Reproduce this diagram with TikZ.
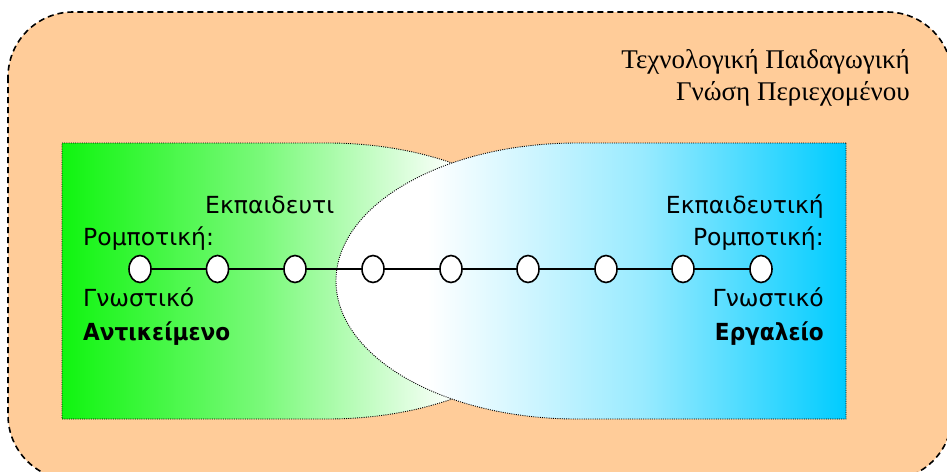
\documentclass[tikz,border=0pt]{standalone}
\usepackage{fontspec}
\usepackage{graphicx}
\setmainfont{Liberation Serif}
\newfontfamily\labelfont{DejaVu Sans}
\definecolor{peach}{RGB}{255,204,153}
\definecolor{brightgreen}{RGB}{16,245,16}
\definecolor{skyblue}{RGB}{0,204,255}
\pgfdeclarehorizontalshading{greenfade}{100bp}{color(0bp)=(brightgreen); color(25bp)=(brightgreen); color(45bp)=(brightgreen!55!white); color(64bp)=(white); color(100bp)=(white)}
\pgfdeclarehorizontalshading{bluefade}{100bp}{color(0bp)=(white); color(25bp)=(white); color(34bp)=(white); color(55bp)=(skyblue!40!white); color(75bp)=(skyblue); color(100bp)=(skyblue)}
\newcommand{\narrowbold}[1]{\scalebox{0.92}[1]{\bfseries #1}}
\tikzset{
  outerbox/.style={fill=peach, draw=black, line width=1.6pt, dash pattern=on 6pt off 4pt},
  innerborder/.style={draw=black, line width=0.9pt, dash pattern=on 1pt off 1.2pt},
  dotnode/.style={ellipse, draw=black, fill=white, line width=1.6pt, minimum width=22pt, minimum height=27pt, inner sep=0pt},
  lbl/.style={font=\labelfont\fontsize{23.5}{28}\selectfont, inner sep=0pt},
  serifl/.style={font=\fontsize{27}{32}\selectfont, inner sep=0pt}
}
\usetikzlibrary{shapes.geometric}
\begin{document}
\begin{tikzpicture}[x=1pt,y=-1pt]
\useasboundingbox (0,0) rectangle (947,471);
\clip (0,0) rectangle (947,471);
% outer rounded region
\path[outerbox, rounded corners=65pt] (8,12) rectangle (952,480);
% green region
\path[innerborder, shading=greenfade]
  (62,143) -- (327,143) arc[start angle=-90, end angle=90, x radius=241, y radius=138]
  -- (62,419) -- cycle;
% blue region
\path[innerborder, shading=bluefade]
  (846,143) -- (577,143) arc[start angle=-90, end angle=-270, x radius=241, y radius=138]
  -- (846,419) -- cycle;
% title
\node[serifl, anchor=base east] (t1) at (910,68) {Τεχνολογική Παιδαγωγική};
\node[serifl, anchor=base east] (t2) at (910,100) {Γνώση Περιεχομένου};
% chain
\foreach \i/\x in {1/140,2/217.5,3/295,4/373,5/451,6/528,7/606,8/683,9/761}{
  \coordinate (p\i) at (\x,269);
}
\draw[line width=1.6pt] (p1) -- (p9);
\foreach \i in {1,...,9}{
  \node[dotnode] (c\i) at (p\i) {};
}
% left labels
\node[lbl, anchor=base west] (l1) at (205,213) {Εκπαιδευτι};
\node[lbl, anchor=base west] (l2) at (83,245) {Ρομποτική:};
\node[lbl, anchor=base west] (l3) at (83,306) {Γνωστικό};
\node[lbl, anchor=base west] (l4) at (83,340) {\narrowbold{Αντικείμενο}};
% right labels
\node[lbl, anchor=base east] (r1) at (824,213) {Εκπαιδευτική};
\node[lbl, anchor=base east] (r2) at (824,245) {Ρομποτική:};
\node[lbl, anchor=base east] (r3) at (824,306) {Γνωστικό};
\node[lbl, anchor=base east] (r4) at (824,340) {\narrowbold{Εργαλείο}};
\end{tikzpicture}
\end{document}
